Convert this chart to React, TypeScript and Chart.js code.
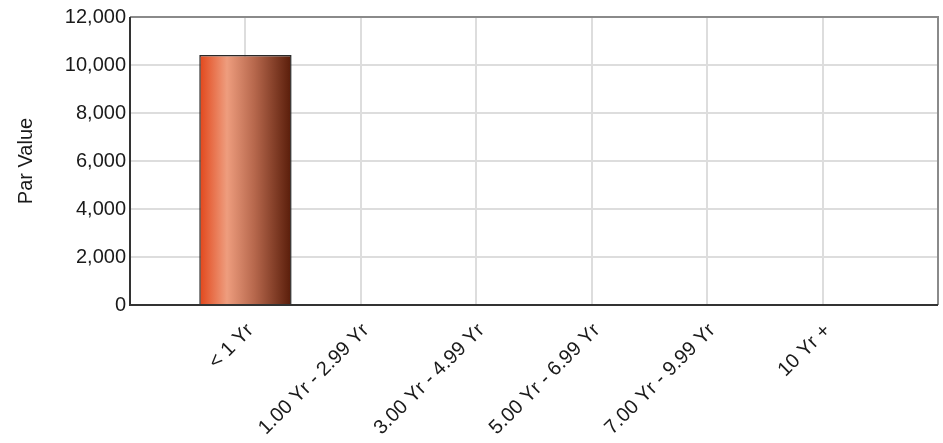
import React, { useEffect, useRef } from "react";
import { Chart, registerables } from "chart.js";

Chart.register(...registerables);

const categories: string[] = [
  "< 1 Yr",
  "1.00 Yr - 2.99 Yr",
  "3.00 Yr - 4.99 Yr",
  "5.00 Yr - 6.99 Yr",
  "7.00 Yr - 9.99 Yr",
  "10 Yr +",
];
const parValues: number[] = [10420, 0, 0, 0, 0, 0];
const yTicks: number[] = [0, 2000, 4000, 6000, 8000, 10000, 12000];
const yTitle = "Par Value";

const FONT = "'Liberation Sans', Arial, sans-serif";
const FS = 20;

const frame = {
  id: "frame",
  afterDraw(chart: any) {
    const { ctx, chartArea } = chart;
    ctx.save();
    ctx.strokeStyle = "#8a8a8a";
    ctx.lineWidth = 2;
    ctx.beginPath();
    ctx.moveTo(chartArea.left, chartArea.top);
    ctx.lineTo(chartArea.right, chartArea.top);
    ctx.lineTo(chartArea.right, chartArea.bottom);
    ctx.stroke();
    ctx.strokeStyle = "#333333";
    ctx.lineWidth = 2;
    ctx.beginPath();
    ctx.moveTo(chartArea.left, chartArea.top);
    ctx.lineTo(chartArea.left, chartArea.bottom);
    ctx.lineTo(chartArea.right, chartArea.bottom);
    ctx.stroke();
    ctx.restore();
  },
};

export default function App() {
  const ref = useRef<HTMLCanvasElement | null>(null);
  useEffect(() => {
    if (!ref.current) return;
    const labels = ["", ...categories, ""];
    const data = [null, ...parValues.map((v) => (v === 0 ? null : v)), null];
    const chart = new Chart(ref.current, {
      type: "bar",
      data: {
        labels,
        datasets: [
          {
            data: data as any,
            borderColor: "#2a2a2a",
            borderWidth: 1.5,
            barPercentage: 1,
            categoryPercentage: 0.8,
            backgroundColor: (c: any) => {
              const ch = c.chart;
              const xs = ch.scales && ch.scales.x;
              if (!xs || !ch.chartArea) return "#e07050";
              const step = xs.getPixelForValue(1) - xs.getPixelForValue(0);
              const cx = xs.getPixelForValue(c.dataIndex);
              const w = step * 0.8;
              const g = ch.ctx.createLinearGradient(cx - w / 2, 0, cx + w / 2, 0);
              g.addColorStop(0, "#e2461a");
              g.addColorStop(0.3, "#ee9d7e");
              g.addColorStop(0.6, "#b6674c");
              g.addColorStop(1, "#581c09");
              return g;
            },
          },
        ],
      },
      options: {
        animation: false,
        responsive: false,
        devicePixelRatio: 1,
        layout: { padding: { top: 17, right: 5, left: 0, bottom: 0 } },
        plugins: { legend: { display: false }, tooltip: { enabled: false } },
        scales: {
          x: {
            offset: false,
            grid: { offset: false, color: "#dddddd", lineWidth: 2, drawTicks: false },
            border: { display: false },
            ticks: {
              minRotation: 45,
              maxRotation: 45,
              autoSkip: false,
              padding: 14,
              labelOffset: 5,
              color: "#1a1a1a",
              font: { family: FONT, size: FS },
            },
            afterFit: (s: any) => {
              s.height = 138;
              s.paddingLeft = 0;
              s.paddingRight = 0;
            },
          },
          y: {
            min: 0,
            max: 12000,
            afterBuildTicks: (s: any) => {
              s.ticks = yTicks.map((v) => ({ value: v }));
            },
            grid: { color: "#dddddd", lineWidth: 2, drawTicks: false },
            border: { display: false },
            ticks: {
              padding: 4,
              color: "#1a1a1a",
              font: { family: FONT, size: FS },
              callback: (v: any) => Number(v).toLocaleString("en-US"),
            },
            title: {
              display: true,
              text: yTitle,
              color: "#1a1a1a",
              font: { family: FONT, size: FS },
              padding: { top: 14, bottom: 0 },
            },
            afterFit: (s: any) => {
              s.width = 130;
              s.paddingTop = 0;
              s.paddingBottom = 0;
            },
          },
        },
      },
      plugins: [frame],
    });
    return () => chart.destroy();
  }, []);
  return (
    <div style={{ position: "fixed", left: 0, top: 0, width: 943, height: 443, background: "#fff" }}>
      <canvas ref={ref} width={943} height={443} style={{ display: "block" }} />
    </div>
  );
}
